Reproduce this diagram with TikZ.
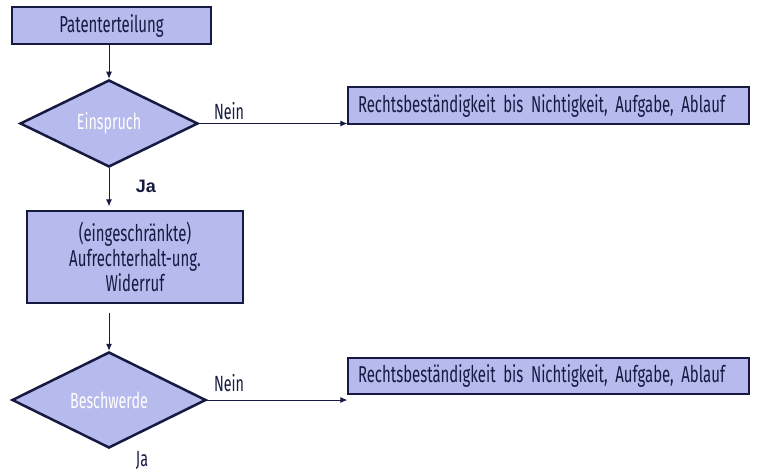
\documentclass[tikz,border=0pt]{standalone}
\usepackage{fontspec}
\setmainfont[FakeStretch=0.65, WordSpace=0.8]{Fira Sans}
\newfontfamily\jafont{Liberation Sans}
\usetikzlibrary{shapes.geometric, arrows.meta}
\definecolor{boxfill}{RGB}{182,186,236}
\definecolor{navy}{RGB}{22,26,64}

\begin{document}
\begin{tikzpicture}[x=1pt, y=-1pt]
\useasboundingbox (0,0) rectangle (762,473);
\tikzstyle{box}=[rectangle, draw=navy, fill=boxfill, line width=1.2pt,
                        inner sep=0pt, text=navy, font=\fontsize{23}{25}\selectfont]
\tikzstyle{dia}=[diamond, draw=navy, fill=boxfill, line width=2.5pt,
                        inner sep=0pt, text=white, font=\fontsize{22}{24}\selectfont]
\tikzstyle{lbl}=[inner sep=1pt, text=navy, font=\fontsize{22}{24}\selectfont]
\tikzstyle{arr}=[-{Latex[length=7pt, width=6pt]}, draw=navy, line width=1pt]
\node[box, minimum width=199pt, minimum height=37pt](pat) at (111.5,25.5){Patenterteilung};
\node[dia, minimum width=178pt, minimum height=87pt](ein) at (109,123.5){Einspruch};
\node[box, text width=381pt, inner xsep=10pt, minimum height=37pt, align=left](rb1) at (548.5,105.5){Rechtsbeständigkeit bis Nichtigkeit, Aufgabe, Ablauf};
\node[box, minimum width=216pt, minimum height=92pt, align=center](auf) at (135,257){(eingeschränkte)\\Aufrechterhalt-ung.\\Widerruf};
\node[dia, minimum width=194pt, minimum height=96pt](bes) at (109,400){Beschwerde};
\node[box, text width=381pt, inner xsep=10pt, minimum height=36pt, align=left](rb2) at (548.5,376){Rechtsbeständigkeit bis Nichtigkeit, Aufgabe, Ablauf};
\node[lbl](n1) at (229,111){Nein};
\node[lbl, font=\jafont\bfseries\fontsize{18}{20}\selectfont](j1) at (146,186){Ja};
\node[lbl](n2) at (229,383){Nein};
\node[lbl](j2) at (142,460){Ja};
\coordinate (pout) at (pat.south -| ein.north);
\coordinate (ain) at ([yshift=4pt]auf.north -| ein.south);
\coordinate (aout) at ([yshift=-9pt]auf.south -| bes.north);
\foreach \i/\j in {pout/ein.north, ein.south/ain, aout/bes.north,
                   ein.east/ein.east -| rb1.west, bes.east/bes.east -| rb2.west}{\draw[arr] (\i) -- (\j);}
\end{tikzpicture}
\end{document}
